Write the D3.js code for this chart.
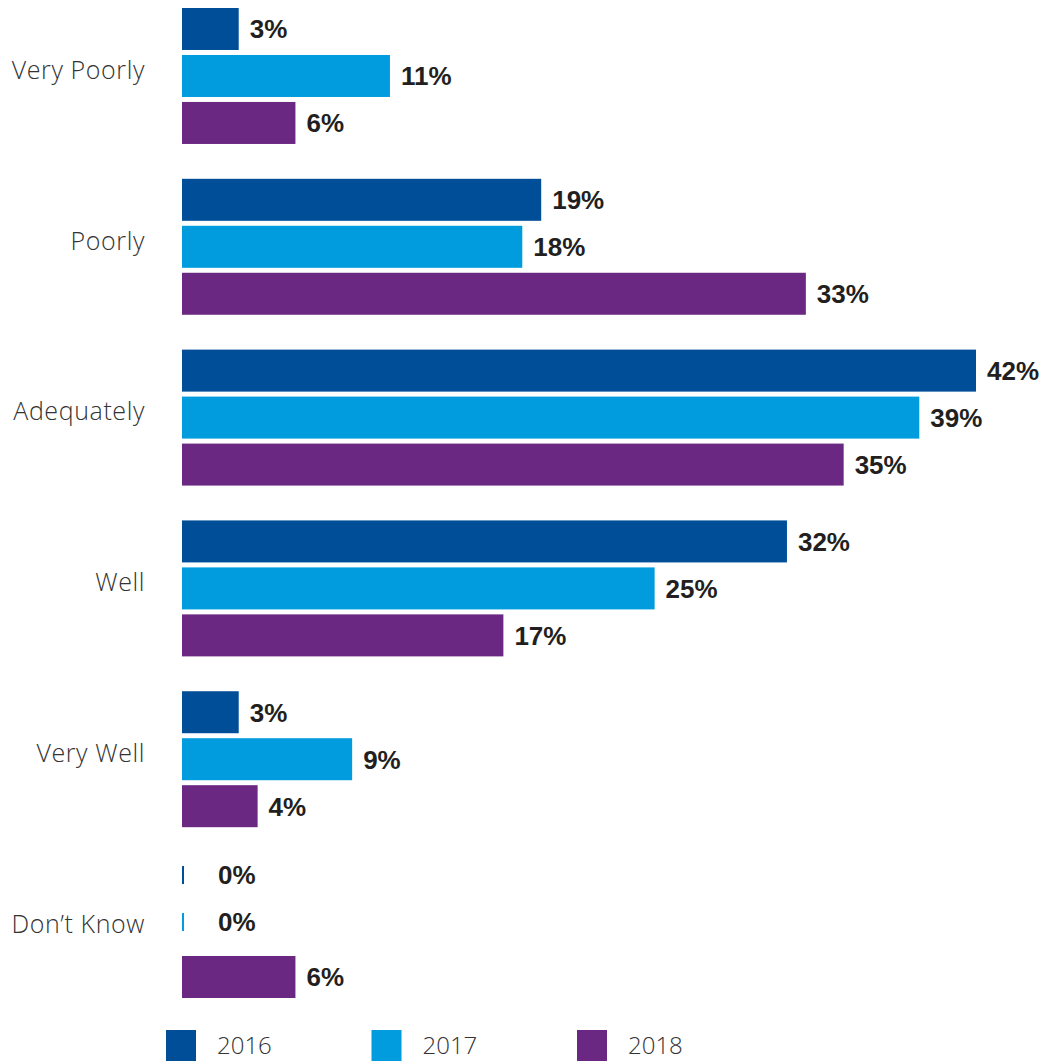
<!DOCTYPE html>
<html><head><meta charset="utf-8">
<script src="https://cdn.jsdelivr.net/npm/d3@7"></script>
<style>body{margin:0;background:#fff}</style>
</head><body>
<svg id="chart" width="1040" height="1061"></svg>
<script>
const categories = ["Very Poorly","Poorly","Adequately","Well","Very Well","Don\u2019t Know"];
const years = ["2016","2017","2018"];
const values2016 = [3,19,42,32,3,0];
const values2017 = [11,18,39,25,9,0];
const values2018 = [6,33,35,17,4,6];
const colors = ["#004e98","#009cde","#6b2883"];

const series = [values2016, values2017, values2018];
const svg = d3.select("#chart");

const x = d3.scaleLinear().domain([0,42]).range([182,976]);
const y = d3.scaleBand().domain(categories).range([8,998]).paddingInner(0.204).paddingOuter(0);
const yi = d3.scaleBand().domain(years).range([0,y.bandwidth()]).paddingInner(0.106);

const data = [];
categories.forEach((c,ci)=>years.forEach((yr,yi2)=>data.push({cat:c,year:yr,value:series[yi2][ci],color:colors[yi2]})));

const g = svg.append("g");
g.selectAll("rect.bar").data(data).join("rect")
  .attr("class","bar")
  .attr("x", x(0))
  .attr("y", d => y(d.cat) + yi(d.year) + (d.value===0 ? 4 : 0))
  .attr("width", d => d.value===0 ? 2 : x(d.value)-x(0))
  .attr("height", d => d.value===0 ? 18 : yi.bandwidth())
  .attr("fill", d => d.color);

g.selectAll("text.val").data(data).join("text")
  .attr("class","val")
  .attr("x", d => d.value===0 ? x(0)+36 : x(d.value)+11)
  .attr("y", d => y(d.cat) + yi(d.year) + (d.value===0 ? 13 : yi.bandwidth()/2))
  .attr("dy","0.36em")
  .attr("font-family","'Liberation Sans', Arial, sans-serif")
  .attr("font-weight","bold")
  .attr("font-size",26)
  .attr("fill","#231f20")
  .text(d => d.value + "%");

g.selectAll("text.cat").data(categories).join("text")
  .attr("class","cat")
  .attr("x",145)
  .attr("y", d => y(d) + y.bandwidth()/2 - 6)
  .attr("dy","0.35em")
  .attr("text-anchor","end")
  .attr("font-family","'Open Sans', sans-serif")
  .attr("font-weight",300)
  .attr("font-size",25)
  .attr("letter-spacing","0.6px")
  .attr("fill","#333")
  .text(d => d);

const lx = d3.scalePoint().domain(years).range([166,577]);
const lg = svg.append("g").selectAll("g").data(years).join("g")
  .attr("transform", d => `translate(${lx(d)},1030)`);
lg.append("rect").attr("width",30).attr("height",31).attr("fill",(d,i)=>colors[i]);
lg.append("text").attr("x",51).attr("y",15).attr("dy","0.36em")
  .attr("font-family","'Open Sans', sans-serif").attr("font-weight",300)
  .attr("font-size",24).attr("fill","#333").text(d=>d);
</script>
</body></html>
